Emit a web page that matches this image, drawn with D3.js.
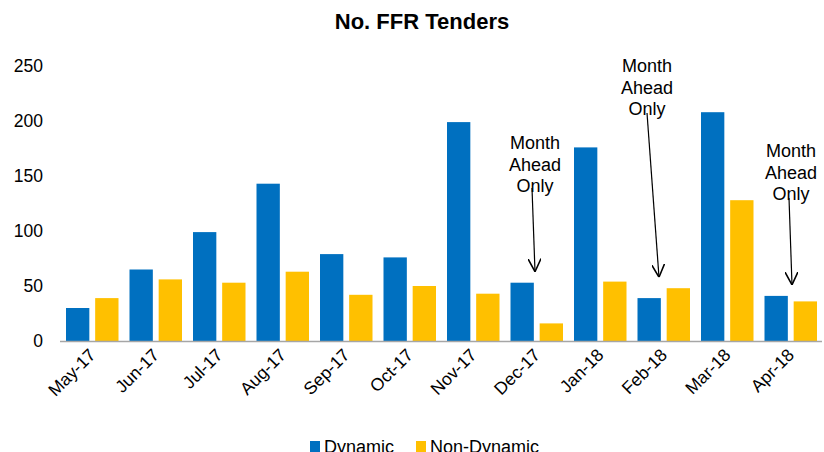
<!DOCTYPE html>
<html>
<head>
<meta charset="utf-8">
<script src="https://cdn.jsdelivr.net/npm/d3@7"></script>
<style>
body { margin: 0; background: #fff; }
text { font-family: "Liberation Sans", Arial, sans-serif; fill: #000; }
</style>
</head>
<body>
<div id="canvas"></div>
<script>
var width = 824,
	height = 452;

var months = ["May-17","Jun-17","Jul-17","Aug-17","Sep-17","Oct-17","Nov-17","Dec-17","Jan-18","Feb-18","Mar-18","Apr-18"];
var dynamic = [30, 65, 99, 143, 79, 76, 199, 53, 176, 39, 208, 41];
var nonDynamic = [39, 56, 53, 63, 42, 50, 43, 16, 54, 48, 128, 36];
var yTicks = [0, 50, 100, 150, 200, 250];
var seriesNames = ["Dynamic", "Non-Dynamic"];
var colors = ["#0070C0", "#FFC000"];
var notes = ["Dec-17", "Feb-18", "Apr-18"];

var svg = d3.select("#canvas").append("svg")
	.attr("width", width)
	.attr("height", height);

var x = d3.scaleBand().domain(months).range([60, 822]);
var inner = d3.scaleBand().domain(seriesNames).range([6, x.bandwidth() - 5]).paddingInner(0.2);
var y = d3.scaleLinear().domain([0, 250]).range([341, 66]);

svg.append("text")
	.attr("x", 422).attr("y", 29)
	.attr("text-anchor", "middle")
	.style("font-size", "22px").style("font-weight", "bold")
	.text("No. FFR Tenders");

// y labels
svg.selectAll(".ylab").data(yTicks).enter().append("text")
	.attr("x", 43).attr("y", function(d){ return y(d) + 6; })
	.attr("text-anchor", "end")
	.style("font-size", "17.5px")
	.text(function(d){ return d; });

var rows = months.map(function(m, i){ return {m: m, v: [dynamic[i], nonDynamic[i]]}; });

var g = svg.selectAll(".grp").data(rows).enter().append("g")
	.attr("transform", function(d){ return "translate(" + x(d.m) + ",0)"; });

g.selectAll("rect").data(function(d){ return d.v.map(function(v, k){ return {k: k, v: v}; }); })
	.enter().append("rect")
	.attr("x", function(d){ return inner(seriesNames[d.k]); })
	.attr("width", inner.bandwidth())
	.attr("y", function(d){ return y(d.v); })
	.attr("height", function(d){ return y(0) - y(d.v); })
	.attr("fill", function(d){ return colors[d.k]; });

svg.append("line")
	.attr("x1", 60).attr("x2", 822)
	.attr("y1", y(0) + 0.5).attr("y2", y(0) + 0.5)
	.attr("stroke", "#a6a6a6").attr("stroke-width", 1.5);

svg.selectAll(".xlab").data(months).enter().append("text")
	.attr("text-anchor", "end")
	.style("font-size", "17.5px")
	.attr("transform", function(d){ return "translate(" + (x(d) + x.bandwidth()/2 + 5) + "," + 356 + ") rotate(-45)"; })
	.text(function(d){ return d; });

// annotations
var noteText = [{cx: 535, cy: 149}, {cx: 647, cy: 72}, {cx: 791, cy: 157}];
var arrows = [
	{x1: 532, y1: 188, x2: 535, yv: 53},
	{x1: 647, y1: 113, x2: 659, yv: 48},
	{x1: 789, y1: 198, x2: 792, yv: 41}
];

svg.append("defs").append("marker")
	.attr("id", "head")
	.attr("viewBox", "0 0 10 10")
	.attr("refX", 10).attr("refY", 5)
	.attr("markerWidth", 13).attr("markerHeight", 13)
	.attr("markerUnits", "userSpaceOnUse")
	.attr("orient", "auto")
	.append("path")
	.attr("d", "M0,0 L10,5 L0,10")
	.attr("fill", "none").attr("stroke", "#000").attr("stroke-width", 1.2);

notes.forEach(function(n, i){
	var t = svg.append("text")
		.attr("text-anchor", "middle")
		.style("font-size", "18px");
	["Month", "Ahead", "Only"].forEach(function(w, j){
		t.append("tspan").attr("x", noteText[i].cx).attr("y", noteText[i].cy + j * 21.5).text(w);
	});
	var a = arrows[i];
	svg.append("line")
		.attr("x1", a.x1).attr("y1", a.y1)
		.attr("x2", a.x2).attr("y2", y(a.yv) - 11)
		.attr("stroke", "#000").attr("stroke-width", 1.2)
		.attr("marker-end", "url(#head)");
});

// legend
var leg = svg.selectAll(".leg").data(seriesNames).enter().append("g")
	.attr("transform", function(d, i){ return "translate(" + (i === 0 ? 310 : 416) + ",441)"; });
leg.append("rect").attr("width", 10).attr("height", 11)
	.attr("fill", function(d, i){ return colors[i]; });
leg.append("text").attr("x", 14).attr("y", 12)
	.style("font-size", "18px")
	.text(function(d){ return d; });
</script>
</body>
</html>
